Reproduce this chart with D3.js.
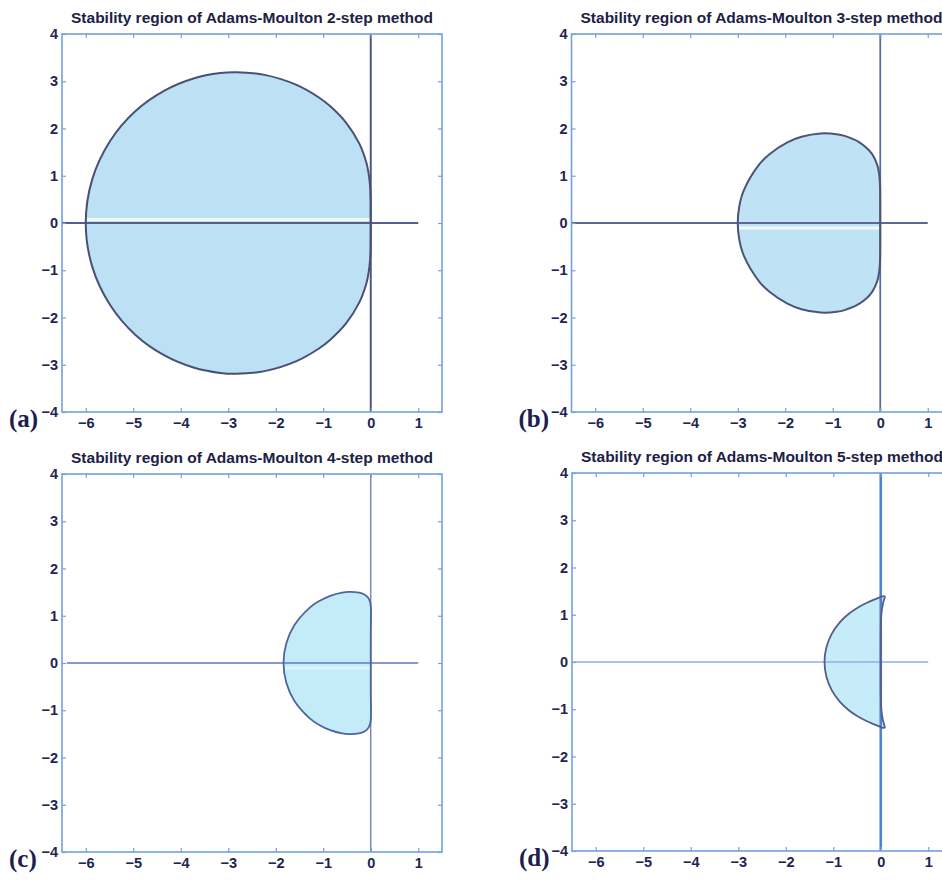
<!DOCTYPE html>
<html>
<head>
<meta charset="utf-8">
<script src="https://cdn.jsdelivr.net/npm/d3@7"></script>
<style>
  html, body { margin: 0; padding: 0; background: #ffffff; }
  svg { display: block; }
</style>
</head>
<body>
<script>
// ---- data ---------------------------------------------------------------
const stepCounts = [2, 3, 4, 5];
const panelLetters = ["(a)", "(b)", "(c)", "(d)"];
const titles = stepCounts.map(k => `Stability region of Adams-Moulton ${k}-step method`);

const xTicks = [-6, -5, -4, -3, -2, -1, 0, 1];
const yTicks = [-4, -3, -2, -1, 0, 1, 2, 3, 4];
const xDomain = [-6.5, 1.5];
const yDomain = [-4, 4];

// extent of the drawn real axis in each panel
const realAxisSpan = [[-6.5, 1], [-6.5, 1], [-6.4, 1], [-6.5, 1]];

// boundary locus points (Re, Im), upper half then lower half
const am2Upper = [[0, 0], [-0.003, 0.524], [-0.015, 0.790], [-0.047, 1.064], [-0.097, 1.296], [-0.240, 1.680],
  [-0.525, 2.130], [-0.857, 2.474], [-1.091, 2.656], [-1.563, 2.923], [-2.235, 3.135], [-2.825, 3.191],
  [-3.167, 3.173], [-3.732, 3.058], [-4.343, 2.802], [-4.953, 2.369], [-5.487, 1.735], [-5.864, 0.923], [-6.000, 0]];
const am2Lower = [[-5.864, -0.923], [-5.487, -1.735], [-4.953, -2.369], [-4.343, -2.802], [-3.732, -3.058],
  [-3.167, -3.173], [-2.825, -3.191], [-2.235, -3.135], [-1.563, -2.923], [-1.091, -2.656], [-0.857, -2.474],
  [-0.525, -2.130], [-0.240, -1.680], [-0.097, -1.296], [-0.047, -1.064], [-0.015, -0.790], [-0.003, -0.524]];

const am3Upper = [[0, 0], [0.000, 0.523], [-0.004, 0.779], [-0.022, 1.026], [-0.059, 1.213], [-0.185, 1.477],
  [-0.448, 1.713], [-0.735, 1.838], [-0.920, 1.880], [-1.256, 1.896], [-1.659, 1.825], [-1.955, 1.707],
  [-2.332, 1.457], [-2.544, 1.244], [-2.875, 0.684], [-2.968, 0.350], [-3.000, 0]];
const am3Lower = [[-2.968, -0.350], [-2.875, -0.684], [-2.544, -1.244], [-2.332, -1.457], [-1.955, -1.707],
  [-1.659, -1.825], [-1.256, -1.896], [-0.920, -1.880], [-0.735, -1.838], [-0.448, -1.713], [-0.185, -1.477],
  [-0.059, -1.213], [-0.022, -1.026], [-0.004, -0.779], [0.000, -0.523]];

const am4Upper = [[0, 0], [0.000, 0.523], [0.002, 0.782], [0.006, 1.026], [0.001, 1.197], [-0.017, 1.303],
  [-0.059, 1.387], [-0.134, 1.450], [-0.247, 1.491], [-0.466, 1.506], [-0.603, 1.490], [-0.840, 1.427],
  [-1.104, 1.300], [-1.284, 1.172], [-1.609, 0.799], [-1.776, 0.424], [-1.837, 0]];
const am4Lower = [[-1.776, -0.424], [-1.609, -0.799], [-1.284, -1.172], [-1.104, -1.300], [-0.840, -1.427],
  [-0.603, -1.490], [-0.466, -1.506], [-0.247, -1.491], [-0.134, -1.450], [-0.059, -1.387], [-0.017, -1.303],
  [0.001, -1.197], [0.006, -1.026], [0.002, -0.782], [0.000, -0.523]];

const am5Upper = [[0, 0], [0.000, 0.524], [0.002, 0.786], [0.016, 1.044], [0.045, 1.226], [0.072, 1.328],
  [0.086, 1.385], [0.063, 1.396], [-0.008, 1.373], [-0.179, 1.305], [-0.290, 1.255], [-0.479, 1.155],
  [-0.679, 1.015], [-0.872, 0.828], [-1.035, 0.590], [-1.145, 0.308], [-1.184, 0]];
const am5Lower = [[-1.145, -0.308], [-1.035, -0.590], [-0.872, -0.828], [-0.679, -1.015], [-0.479, -1.155],
  [-0.290, -1.255], [-0.179, -1.305], [-0.008, -1.373], [0.063, -1.396], [0.086, -1.385], [0.072, -1.328],
  [0.045, -1.226], [0.016, -1.044], [0.002, -0.786], [0.000, -0.524]];

const boundaries = [
  am2Upper.concat(am2Lower),
  am3Upper.concat(am3Lower),
  am4Upper.concat(am4Lower),
  am5Upper.concat(am5Lower)
];

// ---- layout & styles ----------------------------------------------------
const plotW = 380, plotH = 378;
const frames = [
  { left: 62, top: 34 },
  { left: 571.5, top: 34 },
  { left: 62, top: 474 },
  { left: 572, top: 473 }
];
const looks = [
  { fill: "#bce1f5", edge: "#4a5074", edgeW: 2.0, real: "#545f8c", realW: 2.0, imag: "#4d5680", imagW: 2.0, strip: -3.5, stripOp: 0.8 },
  { fill: "#bfe2f5", edge: "#4c5478", edgeW: 2.0, real: "#5a6894", realW: 1.8, imag: "#5d6c9c", imagW: 1.8, strip: 5, stripOp: 0.8 },
  { fill: "#c4ebf8", edge: "#4f64a0", edgeW: 1.8, real: "#5f7ab8", realW: 1.6, imag: "#6a7cb4", imagW: 1.3, strip: 5, stripOp: 0.45 },
  { fill: "#c7ecf9", edge: "#545e88", edgeW: 1.8, real: "#93b0dd", realW: 1.3, imag: "#4a84d0", imagW: 2.6, strip: 0, stripOp: 0 }
];

const fontSans = "'Liberation Sans', Arial, Helvetica, sans-serif";
const fontSerif = "'Liberation Serif', 'Times New Roman', serif";
const frameColor = "#74a0de";
const labelColor = "#1d2550";

const svg = d3.select("body").append("svg")
  .attr("width", 942).attr("height", 880);

frames.forEach((f, i) => {
  const look = looks[i];
  const x = d3.scaleLinear().domain(xDomain).range([f.left, f.left + plotW]);
  const y = d3.scaleLinear().domain(yDomain).range([f.top + plotH, f.top]);
  const g = svg.append("g");

  const line = d3.line()
    .x(d => x(d[0])).y(d => y(d[1]))
    .curve(d3.curveCatmullRomClosed.alpha(0.5));

  // stability region
  const clipId = "region-clip-" + i;
  g.append("clipPath").attr("id", clipId)
    .append("path").attr("d", line(boundaries[i]));

  g.append("path")
    .attr("d", line(boundaries[i]))
    .attr("fill", look.fill)
    .attr("stroke", "none");

  // thin light band next to the real axis inside the region
  if (look.stripOp > 0) {
    g.append("line")
      .attr("clip-path", `url(#${clipId})`)
      .attr("x1", x(xDomain[0])).attr("x2", x(xDomain[1]))
      .attr("y1", y(0) + look.strip).attr("y2", y(0) + look.strip)
      .attr("stroke", "#ffffff").attr("stroke-width", 3)
      .attr("opacity", look.stripOp);
  }

  // real and imaginary axes
  g.append("line")
    .attr("x1", x(realAxisSpan[i][0])).attr("x2", x(realAxisSpan[i][1]))
    .attr("y1", y(0)).attr("y2", y(0))
    .attr("stroke", look.real).attr("stroke-width", look.realW);
  g.append("line")
    .attr("x1", x(0)).attr("x2", x(0))
    .attr("y1", y(yDomain[0])).attr("y2", y(yDomain[1]))
    .attr("stroke", look.imag).attr("stroke-width", look.imagW);

  // boundary curve
  g.append("path")
    .attr("d", line(boundaries[i]))
    .attr("fill", "none")
    .attr("stroke", look.edge)
    .attr("stroke-width", look.edgeW)
    .attr("stroke-linejoin", "round");

  // frame
  g.append("rect")
    .attr("x", f.left).attr("y", f.top)
    .attr("width", plotW).attr("height", plotH)
    .attr("fill", "none").attr("stroke", frameColor).attr("stroke-width", 1.6);

  // axes with inward ticks
  const styleAxis = sel => {
    sel.select(".domain").remove();
    sel.selectAll(".tick line").attr("stroke", frameColor).attr("stroke-width", 1.2);
    sel.selectAll(".tick text")
      .attr("fill", labelColor)
      .style("font-family", fontSans)
      .style("font-weight", "bold")
      .style("font-size", "14.5px");
  };
  g.append("g").attr("transform", `translate(0,${f.top + plotH})`)
    .call(d3.axisBottom(x).tickValues(xTicks).tickSize(-4).tickPadding(6))
    .call(styleAxis);
  g.append("g").attr("transform", `translate(0,${f.top})`)
    .call(d3.axisTop(x).tickValues(xTicks).tickSize(-4).tickFormat(""))
    .call(styleAxis);
  g.append("g").attr("transform", `translate(${f.left},0)`)
    .call(d3.axisLeft(y).tickValues(yTicks).tickSize(-4).tickPadding(4))
    .call(styleAxis);
  g.append("g").attr("transform", `translate(${f.left + plotW},0)`)
    .call(d3.axisRight(y).tickValues(yTicks).tickSize(-4).tickFormat(""))
    .call(styleAxis);

  // title
  g.append("text")
    .attr("x", f.left + plotW / 2).attr("y", f.top - 11)
    .attr("text-anchor", "middle")
    .attr("fill", "#1c2145")
    .style("font-family", fontSans)
    .style("font-weight", "bold")
    .style("font-size", "15.5px")
    .text(titles[i]);

  // panel letter
  g.append("text")
    .attr("x", f.left - 53).attr("y", f.top + plotH + 15)
    .attr("fill", "#1a2050")
    .style("font-family", fontSerif)
    .style("font-weight", "bold")
    .style("font-size", "25px")
    .text(panelLetters[i]);
});
</script>
</body>
</html>
